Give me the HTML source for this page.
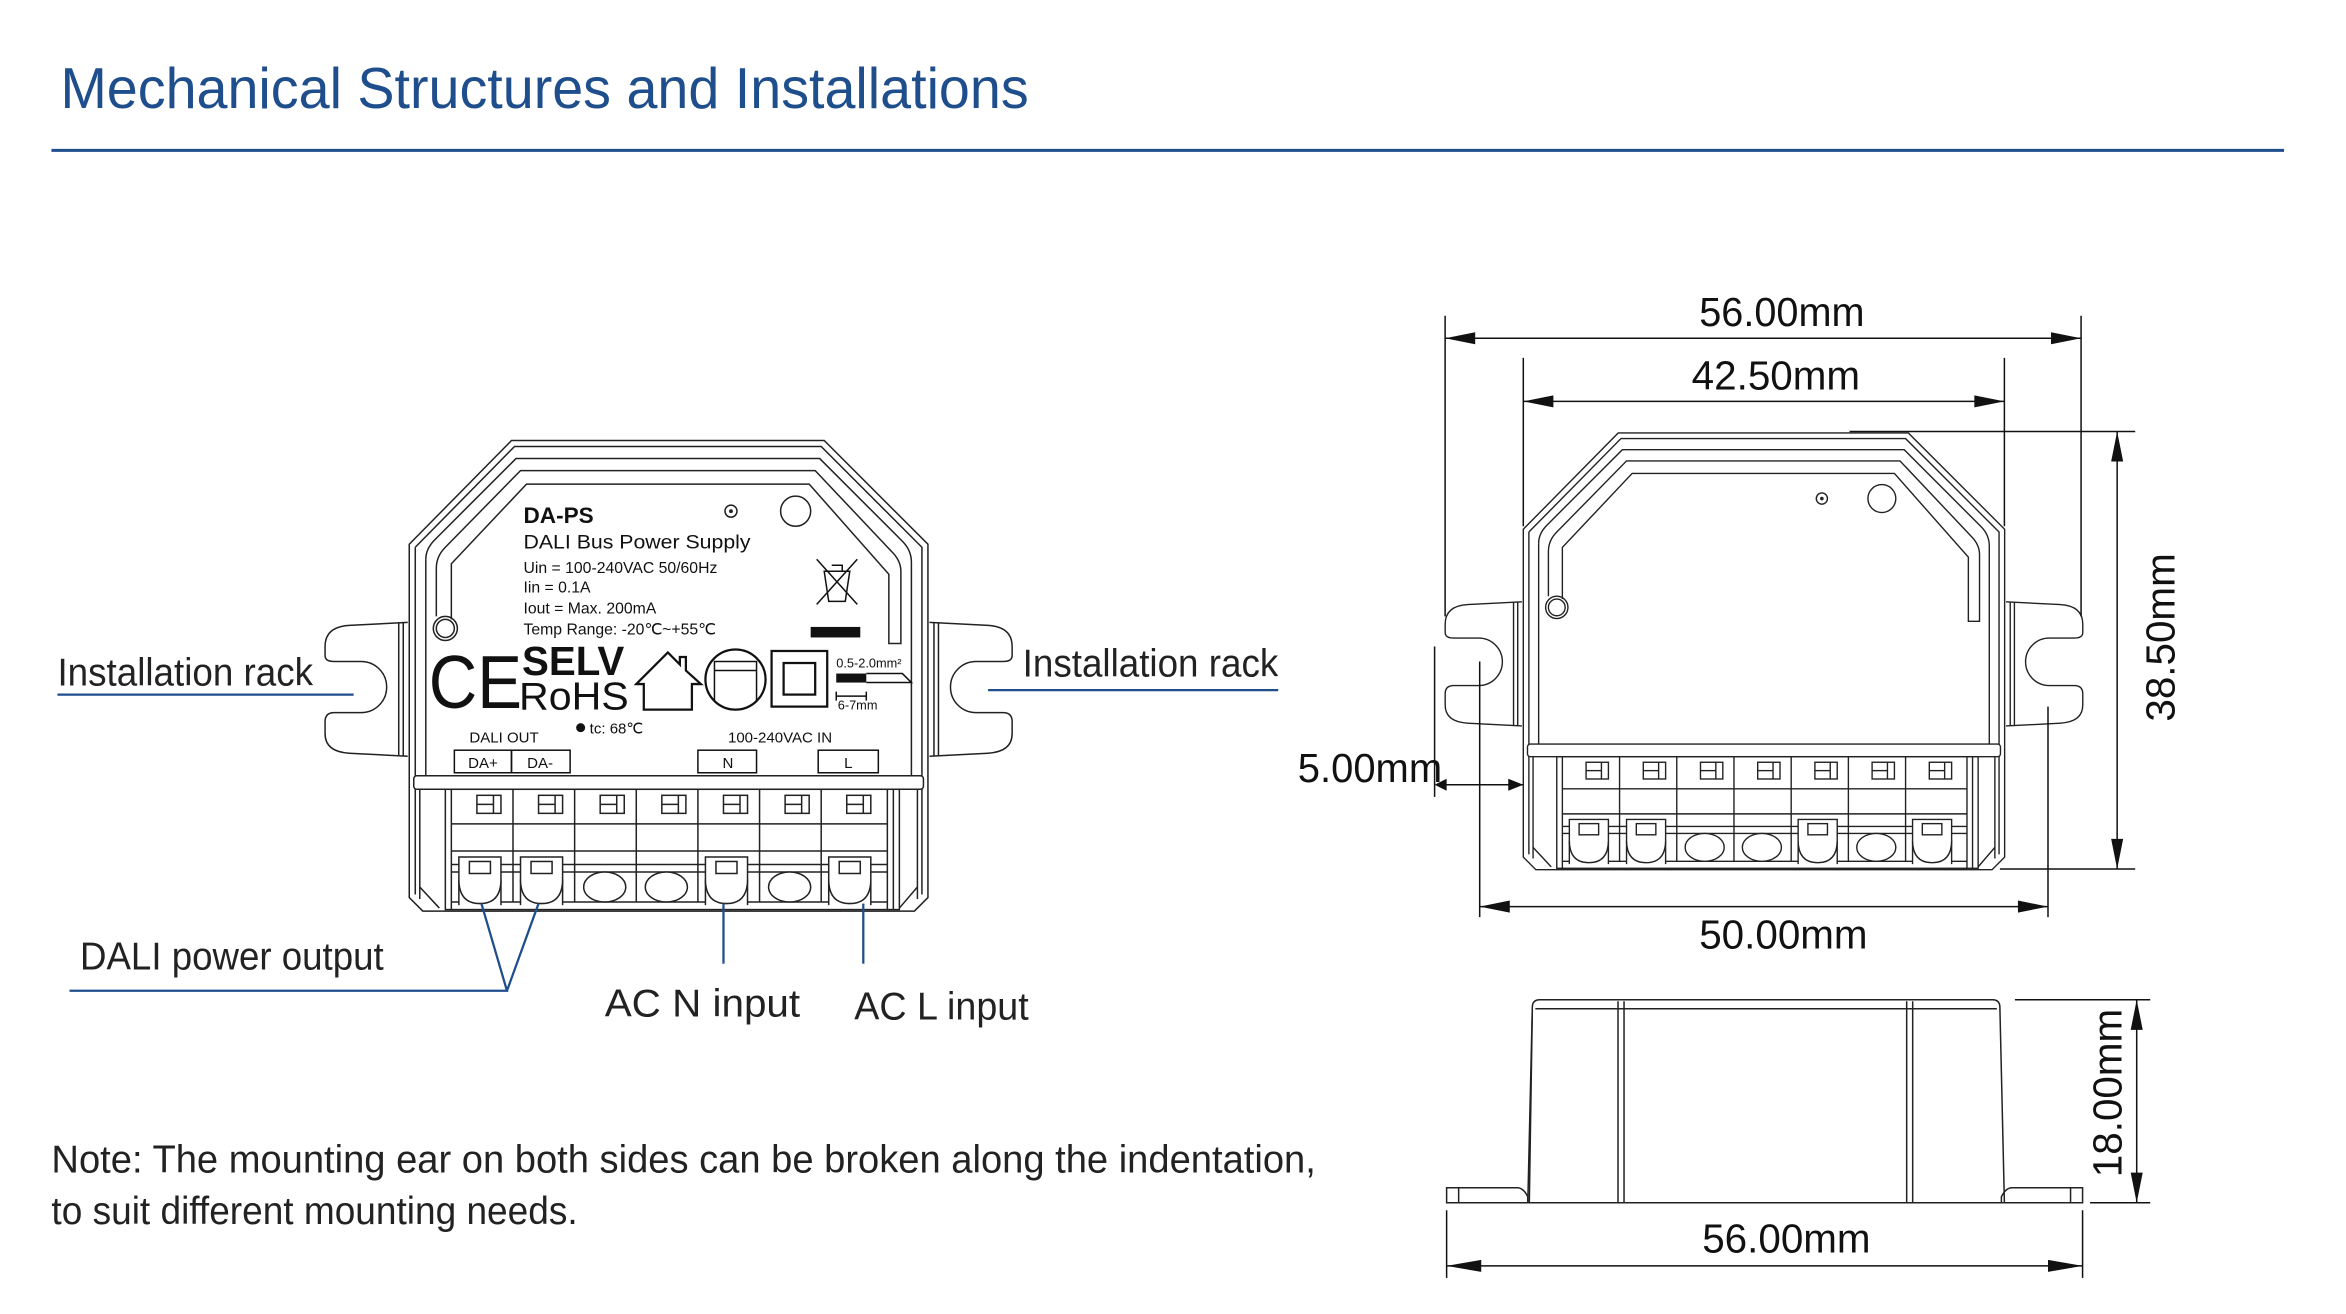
<!DOCTYPE html>
<html><head><meta charset="utf-8"><style>
html,body{margin:0;padding:0;background:#fff;}
svg{display:block;}
</style></head><body>
<svg width="2346" height="1314" viewBox="0 0 1560 874" xmlns="http://www.w3.org/2000/svg" font-family="Liberation Sans, sans-serif">
<defs>
<g id="ear" fill="none" stroke="#222" stroke-width="1">
  <path d="M271,414 L232,416 Q216,417 216,430 L216,436 Q216,440 222,440 L240,440 A17,17 0 0 1 240,474 L222,474 Q216,474 216,480 L216,488 Q216,500 232,501 L271,503"/>
  <line x1="265" y1="414" x2="265" y2="503"/><line x1="268" y1="414" x2="268" y2="503"/>
</g>
<g id="dev" fill="none" stroke="#222" stroke-width="1">
  <use href="#ear"/>
  <use href="#ear" transform="translate(889,0) scale(-1,1)"/>
  <path d="M272,362 L340,293 L548,293 L617,362 L617,597 L608,606 L281,606 L272,597 Z" fill="#fff"/>
  <path d="M276,364 L342,297 L546,297 L613,364 L613,595"/>
  <path d="M276,364 L276,595"/>
  <path d="M283,372 Q283,365 289,359 L343,305 L545,305 L600,360 Q606,366 606,374 L606,517"/>
  <path d="M283,372 L283,517"/>
  <path d="M290,410 L290,378 Q290,370 296,364 L346,313 L542,313 L593,367 Q599,373 599,380 L599,428 L591,428 L591,382 L538,322 L350,322 L300,375 L300,412"/>
  <circle cx="296" cy="418" r="8"/><circle cx="296" cy="418" r="6"/>
  <circle cx="486" cy="340" r="4"/><circle cx="486" cy="340" r="0.8" fill="#222"/>
  <circle cx="529" cy="340" r="10"/>
  <rect x="275" y="516" width="339" height="9" rx="2" fill="#fff"/>
  <line x1="279" y1="525" x2="279" y2="598"/><line x1="610" y1="525" x2="610" y2="598"/>
  <path d="M279,590 L292,604 M610,590 L598,604"/>
  <rect x="296" y="525" width="302" height="80"/>
  <line x1="300" y1="525" x2="300" y2="605"/>
  <line x1="590" y1="525" x2="590" y2="605"/><line x1="594" y1="525" x2="594" y2="605"/>
  <line x1="300" y1="548" x2="590" y2="548"/>
  <line x1="300" y1="566" x2="590" y2="566"/>
  <line x1="300" y1="600" x2="590" y2="600"/>
  <line x1="341" y1="525" x2="341" y2="600"/><line x1="382" y1="525" x2="382" y2="600"/>
  <line x1="423" y1="525" x2="423" y2="600"/><line x1="464" y1="525" x2="464" y2="600"/>
  <line x1="505" y1="525" x2="505" y2="600"/><line x1="546" y1="525" x2="546" y2="600"/>
  <g id="scr"><rect x="317" y="529" width="16" height="12"/><line x1="317" y1="535" x2="328" y2="535"/><line x1="328" y1="529" x2="328" y2="541"/></g>
  <use href="#scr" transform="translate(41,0)"/><use href="#scr" transform="translate(82,0)"/>
  <use href="#scr" transform="translate(123,0)"/><use href="#scr" transform="translate(164,0)"/>
  <use href="#scr" transform="translate(205,0)"/><use href="#scr" transform="translate(246,0)"/>
  <line x1="300" y1="575" x2="590" y2="575"/><line x1="300" y1="580" x2="590" y2="580"/>
  <g id="clamp" fill="#fff"><path d="M305,602 L305,570 L333,570 L333,602"/><path d="M305,585 Q305,601 319,601 Q333,601 333,585"/><rect x="312" y="573" width="14" height="8"/></g>
  <use href="#clamp" transform="translate(41,0)"/><use href="#clamp" transform="translate(164,0)"/><use href="#clamp" transform="translate(246,0)"/>
  <ellipse cx="402" cy="590" rx="14" ry="10" fill="#fff"/>
  <ellipse cx="443" cy="590" rx="14" ry="10" fill="#fff"/>
  <ellipse cx="525" cy="590" rx="14" ry="10" fill="#fff"/>
</g>
</defs>

<text x="40" y="72" font-size="38" fill="#1f4e8c" textLength="644" lengthAdjust="spacingAndGlyphs">Mechanical Structures and Installations</text>
<line x1="34" y1="100" x2="1519" y2="100" stroke="#1f4e8c" stroke-width="2"/>

<!-- left device -->
<use href="#dev"/>
<g fill="#111">
<text x="348" y="348" font-size="15" font-weight="bold">DA-PS</text>
<text x="348" y="365" font-size="13" textLength="151" lengthAdjust="spacingAndGlyphs">DALI Bus Power Supply</text>
<text x="348" y="381" font-size="10.5">Uin  = 100-240VAC 50/60Hz</text>
<text x="348" y="394" font-size="10.5">Iin    = 0.1A</text>
<text x="348" y="408" font-size="10.5">Iout = Max. 200mA</text>
<text x="348" y="422" font-size="10.5">Temp Range: -20℃~+55℃</text>
<text x="285" y="471" font-size="50" textLength="62" lengthAdjust="spacingAndGlyphs">CE</text>
<text x="347" y="449" font-size="27" font-weight="bold" textLength="68" lengthAdjust="spacingAndGlyphs">SELV</text>
<text x="345" y="472" font-size="26" textLength="73" lengthAdjust="spacingAndGlyphs">RoHS</text>
<circle cx="386" cy="484" r="3"/>
<text x="392" y="488" font-size="10">tc: 68℃</text>
<text x="312" y="494" font-size="10">DALI OUT</text>
<text x="484" y="494" font-size="10">100-240VAC IN</text>
<text x="556" y="444" font-size="8.5">0.5-2.0mm²</text>
<text x="557" y="472" font-size="8.5">6-7mm</text>
<rect x="556" y="448" width="20" height="6"/>
<rect x="539" y="417" width="33" height="7"/>
<text x="321" y="511" font-size="10" text-anchor="middle">DA+</text>
<text x="359" y="511" font-size="10" text-anchor="middle">DA-</text>
<text x="484" y="511" font-size="10" text-anchor="middle">N</text>
<text x="564" y="511" font-size="10" text-anchor="middle">L</text>
</g>
<g fill="none" stroke="#111" stroke-width="1">
<path d="M423,455 L444,434 L452,442 L452,437 L456,437 L456,446 L466,455 L460,455 L460,472 L428,472 L428,455 Z" stroke-width="1.5"/>
<circle cx="489" cy="452" r="20" stroke-width="1.5"/>
<path d="M475,466 L475,440 L503,440 L503,466 M475,446 L503,446" />
<rect x="513" y="433" width="37" height="37" stroke-width="1.5"/>
<rect x="521" y="441" width="21" height="21" stroke-width="1.5"/>
<path d="M576,448 L600,448 L606,454 L576,454"/>
<path d="M556,463 L576,463 M556,460 L556,466 M576,460 L576,466"/>
<path d="M543,372 L570,402 M570,372 L543,402"/>
<path d="M548,380 L565,380 L562,400 L551,400 Z M553,376 L560,376 L560,380"/>
<rect x="302" y="499" width="38" height="15"/><rect x="340" y="499" width="39" height="15"/>
<rect x="464" y="499" width="39" height="15"/><rect x="544" y="499" width="40" height="15"/>
</g>

<!-- labels -->
<g fill="#222" font-size="26">
<text x="38" y="456" textLength="170" lengthAdjust="spacingAndGlyphs">Installation rack</text>
<text x="680" y="450" textLength="170" lengthAdjust="spacingAndGlyphs">Installation rack</text>
<text x="53" y="645" textLength="202" lengthAdjust="spacingAndGlyphs">DALI power output</text>
<text x="402" y="676" textLength="130" lengthAdjust="spacingAndGlyphs">AC N input</text>
<text x="568" y="678" textLength="116" lengthAdjust="spacingAndGlyphs">AC L input</text>
<text x="34" y="780" textLength="841" lengthAdjust="spacingAndGlyphs">Note: The mounting ear on both sides can be broken along the indentation,</text>
<text x="34" y="814" textLength="350" lengthAdjust="spacingAndGlyphs">to suit different mounting needs.</text>
</g>
<g stroke="#1f4e8c" stroke-width="1.5" fill="none">
<line x1="38" y1="462" x2="235" y2="462"/>
<line x1="657" y1="459" x2="850" y2="459"/>
<path d="M46,659 L337,659 L320,601 M337,659 L358,601"/>
<line x1="481" y1="601" x2="481" y2="641"/>
<line x1="574" y1="601" x2="574" y2="641"/>
</g>

<!-- right device -->
<use href="#dev" transform="translate(1013,288) scale(0.928) translate(-272,-293)"/>

<!-- side view -->
<g fill="none" stroke="#222" stroke-width="1">
<path d="M962,800 L962,790 L1009,790 Q1013,790 1016,796 L1016,800 Z"/>
<path d="M1385,800 L1385,790 L1338,790 Q1334,790 1331,796 L1331,800 Z"/>
<line x1="970" y1="790" x2="970" y2="800"/><line x1="1377" y1="790" x2="1377" y2="800"/>
<path d="M1016,800 L1019,670 Q1019,665 1024,665 L1325,665 Q1330,665 1330,670 L1333,800"/>
<line x1="1021" y1="671" x2="1328" y2="671"/>
<line x1="1019" y1="672" x2="1017" y2="800"/>
<line x1="1076" y1="666" x2="1076" y2="800"/><line x1="1080" y1="666" x2="1080" y2="800"/>
<line x1="1268" y1="666" x2="1268" y2="800"/><line x1="1272" y1="666" x2="1272" y2="800"/>
<line x1="962" y1="800" x2="1385" y2="800"/>
</g>

<!-- dimensions -->
<g stroke="#111" stroke-width="1" fill="none">
<line x1="961" y1="210" x2="961" y2="410"/><line x1="1384" y1="210" x2="1384" y2="410"/>
<line x1="1013" y1="238" x2="1013" y2="350"/><line x1="1333" y1="238" x2="1333" y2="350"/>
<line x1="961" y1="225" x2="1384" y2="225"/>
<line x1="1013" y1="267" x2="1333" y2="267"/>
<line x1="1230" y1="287" x2="1420" y2="287"/><line x1="1330" y1="578" x2="1420" y2="578"/>
<line x1="1408" y1="287" x2="1408" y2="578"/>
<line x1="954" y1="430" x2="954" y2="530"/>
<line x1="984" y1="440" x2="984" y2="610"/><line x1="1362" y1="470" x2="1362" y2="610"/>
<line x1="958" y1="522" x2="1013" y2="522"/>
<line x1="984" y1="603" x2="1362" y2="603"/>
<line x1="1340" y1="665" x2="1430" y2="665"/><line x1="1390" y1="800" x2="1430" y2="800"/>
<line x1="1421" y1="665" x2="1421" y2="800"/>
<line x1="962" y1="805" x2="962" y2="850"/><line x1="1385" y1="805" x2="1385" y2="850"/>
<line x1="962" y1="842" x2="1385" y2="842"/>
</g>
<g fill="#111">
<path d="M961,225 L981,221 L981,229 Z"/><path d="M1384,225 L1364,221 L1364,229 Z"/>
<path d="M1013,267 L1033,263 L1033,271 Z"/><path d="M1333,267 L1313,263 L1313,271 Z"/>
<path d="M1408,287 L1404,307 L1412,307 Z"/><path d="M1408,578 L1404,558 L1412,558 Z"/>
<path d="M954,522 L962,518 L962,526 Z"/><path d="M1013,522 L1003,518 L1003,526 Z"/>
<path d="M984,603 L1004,599 L1004,607 Z"/><path d="M1362,603 L1342,599 L1342,607 Z"/>
<path d="M1421,665 L1417,685 L1425,685 Z"/><path d="M1421,800 L1417,780 L1425,780 Z"/>
<path d="M962,842 L985,838 L985,846 Z"/><path d="M1385,842 L1362,838 L1362,846 Z"/>
</g>
<g fill="#111" font-size="27">
<text x="1130" y="217" textLength="110" lengthAdjust="spacingAndGlyphs">56.00mm</text>
<text x="1125" y="259" textLength="112" lengthAdjust="spacingAndGlyphs">42.50mm</text>
<text x="863" y="520" textLength="96" lengthAdjust="spacingAndGlyphs">5.00mm</text>
<text x="1130" y="631" textLength="112" lengthAdjust="spacingAndGlyphs">50.00mm</text>
<text x="1132" y="833" textLength="112" lengthAdjust="spacingAndGlyphs">56.00mm</text>
<text transform="translate(1446,480) rotate(-90)" textLength="112" lengthAdjust="spacingAndGlyphs">38.50mm</text>
<text transform="translate(1411,783) rotate(-90)" textLength="112" lengthAdjust="spacingAndGlyphs">18.00mm</text>
</g>
</svg>
</body></html>
